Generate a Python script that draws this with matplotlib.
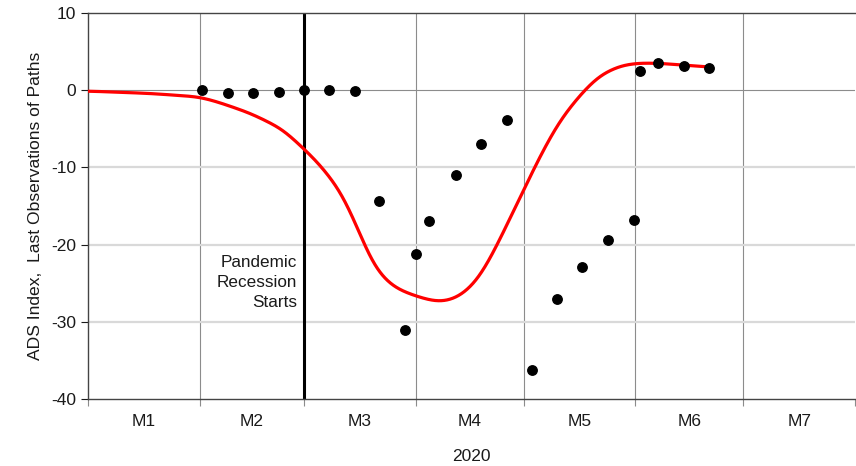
"""
ADS index: smoothed path vs. last observations of the paths, 2020.
"""

import matplotlib

matplotlib.use("Agg")
import matplotlib.pyplot as plt
import numpy as np

plt.rcParams["font.family"] = ["Liberation Sans", "DejaVu Sans"]
plt.rcParams["axes.unicode_minus"] = False

RED = "#FF0000"
DARK = "#1A1A1A"
GRID_V = "#8C8C8C"
GRID_H = "#D9D9D9"

# month lengths in 2020 (days), Jan..Jul
month_days = [31, 29, 31, 30, 31, 30, 31]
month_labels = ["M1", "M2", "M3", "M4", "M5", "M6", "M7"]

# smoothed path (day of year from Jan 1, value)
path_day = [0, 17, 31, 36, 45, 54, 60, 64, 70, 74, 77, 80, 85, 90, 94, 98,
            103, 108, 112, 117, 121, 126, 131, 137, 142, 148, 153, 159, 167, 173]
path_val = [-0.1, -0.4, -0.85, -1.5, -2.95, -5.0, -7.6, -9.4, -12.9, -16.8,
            -20.4, -23.4, -25.6, -26.5, -27.1, -27.5, -26.85, -24.8, -21.6,
            -16.8, -12.9, -8.1, -3.9, -0.4, 1.95, 3.25, 3.55, 3.5, 3.2, 3.0]

# last observations of paths
obs_day = [31.7, 38.9, 45.8, 53.1, 60.0, 66.9, 74.1, 80.8, 88.1, 91.1, 94.7,
           102.1, 109.2, 116.3, 123.3, 130.3, 137.3, 144.4, 151.5, 153.4,
           158.4, 165.5, 172.6]
obs_val = [0.0, -0.3, -0.3, -0.25, 0.0, 0.1, -0.15, -14.3, -31.0, -21.2, -17.0,
           -11.0, -6.9, -3.9, -36.2, -27.0, -22.9, -19.4, -16.75, 2.55,
           3.5, 3.1, 2.9]

recession_start = 60  # Mar 1


def smooth(xs, ys, step=0.1, sigma=2.5):
    # linear interpolation through the read points, then gaussian smoothing
    xx = np.arange(xs[0], xs[-1] + step / 2, step)
    yy = np.interp(xx, xs, ys)
    half = int(4 * sigma / step)
    k = np.exp(-0.5 * (np.arange(-half, half + 1) * step / sigma) ** 2)
    k /= k.sum()
    padded = np.concatenate([np.full(half, yy[0]), yy, np.full(half, yy[-1])])
    return xx, np.convolve(padded, k, mode="valid")


def main():
    fig = plt.figure(figsize=(8.56, 4.66), dpi=100, facecolor="white")
    ax = fig.add_axes([0.1028, 0.1438, 0.896, 0.828])

    bounds = np.concatenate([[0], np.cumsum(month_days)])
    centers = (bounds[:-1] + bounds[1:]) / 2

    ax.set_xlim(bounds[0], bounds[-1])
    ax.set_ylim(-40, 10)

    # grid
    for b in bounds[1:-1]:
        ax.axvline(b, color=GRID_V, lw=0.8, zorder=1)
    for v in [-30, -20, -10]:
        ax.axhline(v, color=GRID_H, lw=1.6, zorder=1)
    ax.axhline(0, color=GRID_V, lw=0.8, zorder=1)

    ax.axvline(recession_start, color="black", lw=2.2, zorder=2)

    xx, yy = smooth(path_day, path_val)
    ax.plot(xx, yy, color=RED, lw=2.3, zorder=3, solid_capstyle="butt")
    ax.plot(obs_day, obs_val, "o", color="black", ms=6.8, zorder=4)

    ax.text(recession_start - 2.0, -24.9, "Pandemic\nRecession\nStarts",
            ha="right", va="center", fontsize=12.3, linespacing=1.45, color=DARK)

    ax.set_xticks(bounds)
    ax.set_xticklabels([])
    ax.set_xticks(centers, minor=True)
    ax.set_xticklabels(month_labels, minor=True, fontsize=12.5, color=DARK)
    ax.tick_params(axis="x", which="major", direction="out", length=5, color=GRID_V)
    ax.tick_params(axis="x", which="minor", length=0, pad=11)

    ax.set_yticks([-40, -30, -20, -10, 0, 10])
    ax.tick_params(axis="y", direction="out", length=5, labelsize=12.5,
                   labelcolor=DARK, color=DARK)

    ax.set_xlabel("2020", fontsize=12.5, color=DARK, labelpad=14)
    ax.set_ylabel("ADS Index,  Last Observations of Paths", fontsize=12.6,
                  color=DARK, labelpad=6)

    for side in ["left", "bottom", "top"]:
        ax.spines[side].set_color("#444444")
        ax.spines[side].set_linewidth(1.0)
    ax.spines["right"].set_visible(False)

    fig.savefig("out.png", dpi=100, facecolor="white")
    plt.close(fig)


if __name__ == "__main__":
    main()
